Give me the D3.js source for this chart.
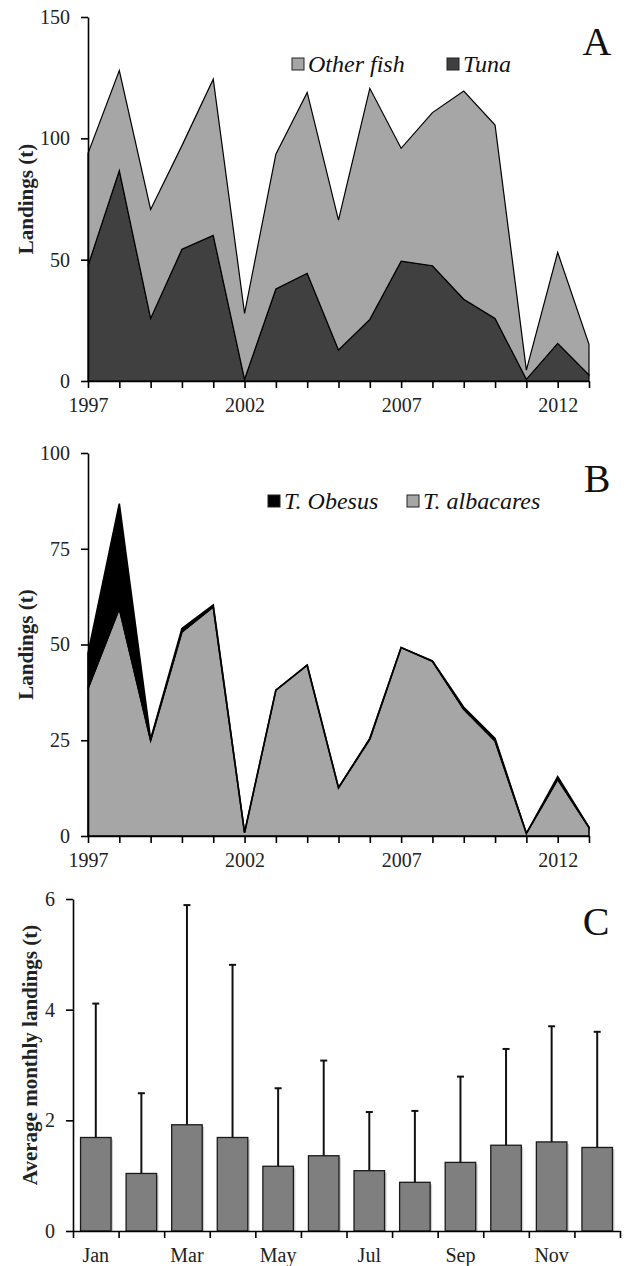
<!DOCTYPE html>
<html>
<head>
<meta charset="utf-8">
<script src="https://cdn.jsdelivr.net/npm/d3@7"></script>
<style>
body { margin: 0; background: #fff; }
svg text { font-family: "Liberation Serif", "Times New Roman", Tinos, serif !important; }
</style>
</head>
<body>
<div id="chart"></div>
<script>
// Panel A / B data (tonnes per year)
var years = [1997, 1998, 1999, 2000, 2001, 2002, 2003, 2004, 2005, 2006, 2007, 2008, 2009, 2010, 2011, 2012, 2013];
var tuna = [47.5, 86.7, 25.8, 54.3, 60.0, 0.7, 37.9, 44.4, 12.8, 25.4, 49.4, 47.5, 33.7, 25.8, 0.7, 15.5, 2.5];
var otherFish = [46.3, 41.2, 44.9, 42.7, 64.4, 27.2, 55.6, 74.5, 53.5, 95.2, 46.5, 63.1, 85.8, 79.7, 3.8, 37.5, 12.6];
var albacares = [38.5, 59.4, 25.0, 53.3, 59.8, 0.9, 38.1, 44.6, 12.6, 25.3, 49.2, 45.6, 33.1, 24.8, 0.7, 14.8, 2.2];
var obesus = [9.2, 27.4, 0.3, 0.9, 0.5, 0, 0, 0, 0, 0.2, 0, 0.1, 0.5, 0.7, 0, 0.7, 0.1];
var yearLabels = [1997, 2002, 2007, 2012];

// Panel C data
var months = ["Jan", "Feb", "Mar", "Apr", "May", "Jun", "Jul", "Aug", "Sep", "Oct", "Nov", "Dec"];
var monthMean = [1.69, 1.04, 1.92, 1.69, 1.17, 1.36, 1.09, 0.88, 1.24, 1.55, 1.61, 1.51];
var monthSD = [2.42, 1.45, 3.97, 3.12, 1.41, 1.72, 1.06, 1.29, 1.55, 1.74, 2.09, 2.09];
var monthLabels = ["Jan", "Mar", "May", "Jul", "Sep", "Nov"];

var FONT = '"Liberation Serif", "Times New Roman", serif';
var svg = d3.select("#chart").append("svg").attr("width", 628).attr("height", 1266)
    .attr("font-family", FONT);

function styleAxis(g) {
    g.attr("font-family", FONT).attr("font-size", 20);
    g.selectAll("path.domain").attr("stroke", "#000").attr("stroke-width", 1.6);
    g.selectAll(".tick line").attr("stroke", "#000").attr("stroke-width", 1.6);
    g.selectAll("text").attr("font-size", 20).attr("fill", "#222").attr("font-family", FONT);
}

function stackedArea(cfg) {
    var x = d3.scaleLinear().domain([1997, 2013]).range([88, 589]);
    var y = d3.scaleLinear().domain([0, cfg.max]).range([cfg.bottom, cfg.top]);
    var g = svg.append("g");

    var rows = years.map(function (yr, i) {
        var r = { year: yr };
        r[cfg.keys[0]] = cfg.series[0][i];
        r[cfg.keys[1]] = cfg.series[1][i];
        return r;
    });
    var stacked = d3.stack().keys(cfg.keys)(rows);
    var area = d3.area()
        .x(function (d) { return x(d.data.year); })
        .y0(function (d) { return y(d[0]); })
        .y1(function (d) { return y(d[1]); });

    g.selectAll(".layer").data(stacked).enter().append("path")
        .attr("class", "layer")
        .attr("d", area)
        .attr("fill", function (d, i) { return cfg.colors[i]; })
        .attr("stroke", "#000")
        .attr("stroke-width", cfg.strokeW)
        .attr("stroke-linejoin", "miter");

    // axes
    var yAxis = g.append("g").attr("transform", "translate(88,0)")
        .call(d3.axisLeft(y).tickValues(cfg.yTicks).tickSize(7).tickSizeOuter(0).tickPadding(11)
            .tickFormat(d3.format("d")));
    styleAxis(yAxis);
    var xAxis = g.append("g").attr("transform", "translate(0," + cfg.bottom + ")")
        .call(d3.axisBottom(x).tickValues(years).tickSize(7).tickSizeOuter(0).tickPadding(10)
            .tickFormat(function (d) { return yearLabels.indexOf(d) >= 0 ? d : ""; }));
    styleAxis(xAxis);

    g.append("text").attr("transform", "translate(33," + ((cfg.top + cfg.bottom) / 2) + ") rotate(-90)")
        .attr("text-anchor", "middle").attr("font-size", 21).attr("font-weight", "bold")
        .attr("fill", "#222").text("Landings (t)");

    g.append("text").attr("x", 597).attr("y", cfg.letterY).attr("text-anchor", "middle")
        .attr("font-size", 40).attr("fill", "#111").text(cfg.letter);

    // legend
    var leg = g.selectAll(".leg").data(cfg.legend).enter().append("g")
        .attr("transform", function (d) { return "translate(" + d.x + "," + cfg.legY + ")"; });
    leg.append("rect").attr("x", 0).attr("y", -14).attr("width", 12).attr("height", 12)
        .attr("fill", function (d) { return d.color; }).attr("stroke", "#222").attr("stroke-width", 1);
    leg.append("text").attr("x", 16).attr("y", 0).attr("font-size", 24).attr("font-style", "italic")
        .attr("fill", "#111").text(function (d) { return d.name; });
}

// A: tuna vs other fish
stackedArea({
    top: 17, bottom: 381, max: 150, yTicks: [0, 50, 100, 150],
    keys: ["tuna", "other"], series: [tuna, otherFish], colors: ["#404040", "#a6a6a6"],
    strokeW: 1.2, letter: "A", letterY: 55, legY: 72,
    legend: [{ name: "Other fish", color: "#a6a6a6", x: 292 }, { name: "Tuna", color: "#404040", x: 447 }]
});

// B: tuna species
stackedArea({
    top: 453, bottom: 836, max: 100, yTicks: [0, 25, 50, 75, 100],
    keys: ["alb", "obe"], series: [albacares, obesus], colors: ["#a6a6a6", "#000000"],
    strokeW: 1.6, letter: "B", letterY: 492, legY: 509,
    legend: [{ name: "T. Obesus", color: "#000000", x: 268 }, { name: "T. albacares", color: "#a6a6a6", x: 407 }]
});

// C: monthly averages with sd bars
function monthBars() {
    var g = svg.append("g");
    var x = d3.scaleBand().domain(months).range([73, 620]).paddingInner(0.33).paddingOuter(0.165);
    var xl = d3.scaleLinear().domain([0, 12]).range([73, 620]);
    var y = d3.scaleLinear().domain([0, 6]).range([1231, 899]);

    // soft shadow like the original export
    g.selectAll(".shadow").data(months).enter().append("rect")
        .attr("x", function (d) { return x(d) + 2; })
        .attr("y", function (d, i) { return y(monthMean[i]) + 2; })
        .attr("width", x.bandwidth())
        .attr("height", function (d, i) { return 1231 - y(monthMean[i]) - 2; })
        .attr("fill", "#d0d0d0");

    g.selectAll(".bar").data(months).enter().append("rect")
        .attr("x", function (d) { return x(d); })
        .attr("y", function (d, i) { return y(monthMean[i]); })
        .attr("width", x.bandwidth())
        .attr("height", function (d, i) { return 1231 - y(monthMean[i]); })
        .attr("fill", "#7f7f7f").attr("stroke", "#1a1a1a").attr("stroke-width", 1.3);

    var err = g.selectAll(".err").data(months).enter().append("g");
    err.append("line")
        .attr("x1", function (d) { return x(d) + x.bandwidth() / 2; })
        .attr("x2", function (d) { return x(d) + x.bandwidth() / 2; })
        .attr("y1", function (d, i) { return y(monthMean[i]); })
        .attr("y2", function (d, i) { return y(monthMean[i] + monthSD[i]); })
        .attr("stroke", "#111").attr("stroke-width", 2);
    err.append("line")
        .attr("x1", function (d) { return x(d) + x.bandwidth() / 2 - 3.5; })
        .attr("x2", function (d) { return x(d) + x.bandwidth() / 2 + 3.5; })
        .attr("y1", function (d, i) { return y(monthMean[i] + monthSD[i]); })
        .attr("y2", function (d, i) { return y(monthMean[i] + monthSD[i]); })
        .attr("stroke", "#111").attr("stroke-width", 2);

    var yAxis = g.append("g").attr("transform", "translate(73,0)")
        .call(d3.axisLeft(y).tickValues([0, 2, 4, 6]).tickSize(7).tickSizeOuter(0).tickPadding(11)
            .tickFormat(d3.format("d")));
    styleAxis(yAxis);
    // tick marks sit on the band edges, labels in the middle of the band
    var xTicks = g.append("g").attr("transform", "translate(0,1231)")
        .call(d3.axisBottom(xl).tickValues(d3.range(13)).tickSize(7).tickSizeOuter(0).tickFormat(""));
    styleAxis(xTicks);
    var xLab = g.append("g").attr("transform", "translate(0,1231)")
        .call(d3.axisBottom(x).tickSize(0).tickPadding(17)
            .tickFormat(function (d) { return monthLabels.indexOf(d) >= 0 ? d : ""; }));
    xLab.select("path.domain").remove();
    styleAxis(xLab);

    g.append("text").attr("transform", "translate(37,1055) rotate(-90)")
        .attr("text-anchor", "middle").attr("font-size", 21).attr("font-weight", "bold")
        .attr("fill", "#222").text("Average monthly landings (t)");

    g.append("text").attr("x", 596).attr("y", 935).attr("text-anchor", "middle")
        .attr("font-size", 40).attr("fill", "#111").text("C");
}
monthBars();
</script>
</body>
</html>
